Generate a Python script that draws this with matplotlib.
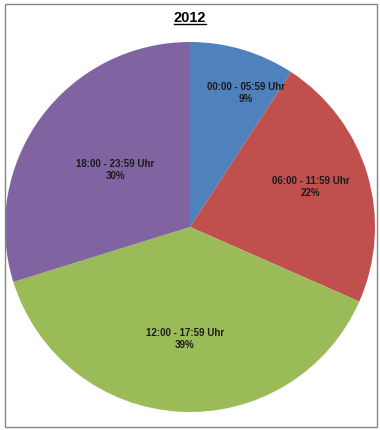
import numpy as np
import matplotlib.pyplot as plt
from matplotlib.patches import Rectangle

# Daten
kategorien = ['00:00 - 05:59 Uhr', '06:00 - 11:59 Uhr', '12:00 - 17:59 Uhr', '18:00 - 23:59 Uhr']
anteile = [9.2, 22.4, 38.6, 29.8]
farben = ['#4F81BD', '#C0504D', '#9BBB59', '#8064A2']
titel = '2012'

# Lage der Beschriftung (Radius-Faktor, Winkelversatz in Grad), wie in Excel
label_r = [0.79, 0.69, 0.60, 0.51]
label_dw = [-5.8, 2.3, 0.6, -1.3]

W, H = 380, 431
fig = plt.figure(figsize=(W / 100, H / 100), dpi=100)
schrift = ['Liberation Sans Narrow', 'Liberation Sans', 'DejaVu Sans']

cx, cy, r = 190, 228, 185
ax = fig.add_axes([(cx - r) / W, (H - cy - r) / H, 2 * r / W, 2 * r / H])

wedges, _ = ax.pie(anteile, colors=farben, startangle=90, counterclock=False,
                   radius=1, wedgeprops=dict(linewidth=0))
ax.set_xlim(-1, 1)
ax.set_ylim(-1, 1)
ax.set_aspect('equal')
ax.axis('off')

for w, name, wert, rr, dw in zip(wedges, kategorien, anteile, label_r, label_dw):
    mid = np.deg2rad((w.theta1 + w.theta2) / 2 + dw)
    ax.text(rr * np.cos(mid), rr * np.sin(mid), f'{name}\n{round(wert)}%',
            ha='center', va='center', fontsize=7, fontweight='bold',
            family=schrift, color='#1a1a1a', linespacing=1.25)

# Titel mit Unterstreichung
t = fig.text(190 / W, 1 - 18 / H, titel, ha='center', va='center',
             fontsize=10.5, fontweight='bold', family=schrift)
fig.canvas.draw()
bb = t.get_window_extent().transformed(fig.transFigure.inverted())
fig.add_artist(plt.Line2D([bb.x0, bb.x1], [bb.y0 + 0.001, bb.y0 + 0.001],
                          transform=fig.transFigure, color='black', lw=1))

# Rahmen
fig.add_artist(Rectangle((4.5 / W, (H - 427.5) / H), 372 / W, 423 / H,
                         transform=fig.transFigure, fill=False,
                         edgecolor='#868686', lw=1))

fig.savefig('out.png', dpi=100)
